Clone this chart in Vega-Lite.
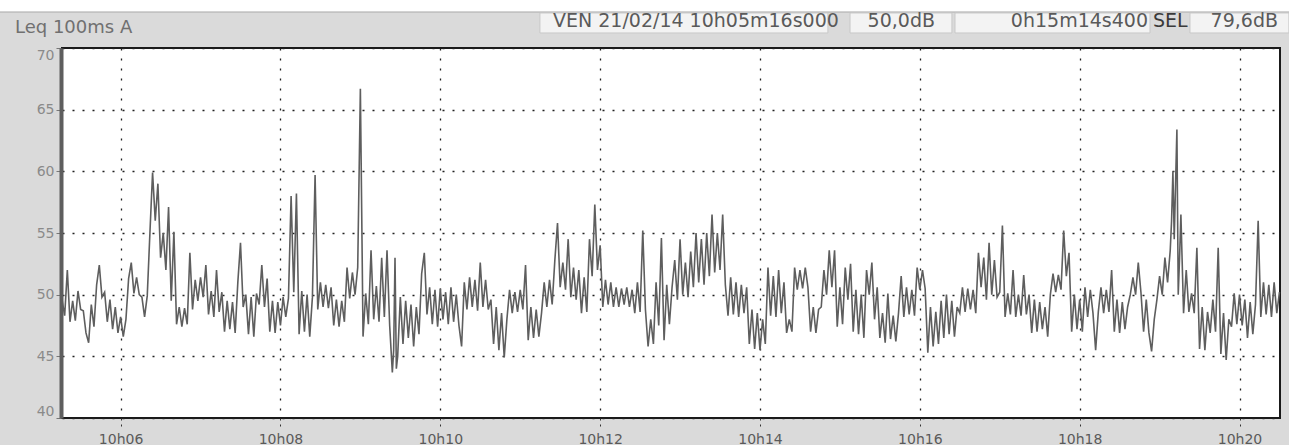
{
  "$schema": "https://vega.github.io/schema/vega-lite/v6.json",
  "width": 1218,
  "height": 370,
  "autosize": {"type": "none"},
  "padding": {"left": 62, "top": 48, "right": 9, "bottom": 27},
  "background": "#dadada",
  "config": {
    "view": {"fill": "#ffffff", "stroke": "#1a1a1a", "strokeWidth": 2},
    "axis": {"labelFont": "DejaVu Sans", "titleFont": "DejaVu Sans"}
  },
  "datasets": {
    "one": [{}],
    "leq": [
      {"t":316,"v":49.6},{"t":318,"v":48.3},{"t":320,"v":52.0},{"t":322,"v":47.8},{"t":324,"v":49.5},{"t":326,"v":47.9},{"t":328,"v":50.3},{"t":330,"v":48.8},{"t":332,"v":48.7},{"t":334,"v":46.9},{"t":336,"v":46.1},{"t":338,"v":49.2},{"t":340,"v":47.4},{"t":342,"v":50.8},{"t":344,"v":52.4},{"t":346,"v":49.8},{"t":348,"v":50.2},{"t":350,"v":47.8},{"t":352,"v":49.6},{"t":354,"v":47.2},{"t":356,"v":49.0},{"t":358,"v":46.9},{"t":360,"v":48.2},{"t":362,"v":46.6},{"t":364,"v":48.0},{"t":366,"v":51.3},{"t":368,"v":52.6},{"t":370,"v":50.1},{"t":372,"v":51.4},{"t":374,"v":50.0},{"t":376,"v":49.8},{"t":378,"v":48.2},{"t":380,"v":49.9},{"t":382,"v":55.0},{"t":384,"v":59.9},{"t":386,"v":56.0},{"t":388,"v":59.0},{"t":390,"v":53.0},{"t":392,"v":55.0},{"t":394,"v":52.0},{"t":396,"v":57.1},{"t":398,"v":49.5},{"t":400,"v":55.1},{"t":402,"v":47.6},{"t":404,"v":49.0},{"t":406,"v":47.4},{"t":408,"v":48.9},{"t":410,"v":47.6},{"t":412,"v":53.4},{"t":414,"v":48.8},{"t":416,"v":51.2},{"t":418,"v":49.5},{"t":420,"v":51.4},{"t":422,"v":49.8},{"t":424,"v":52.4},{"t":426,"v":48.4},{"t":428,"v":50.3},{"t":430,"v":48.2},{"t":432,"v":52.0},{"t":434,"v":48.6},{"t":436,"v":50.2},{"t":438,"v":47.0},{"t":440,"v":49.5},{"t":442,"v":47.2},{"t":444,"v":49.4},{"t":446,"v":46.9},{"t":448,"v":51.0},{"t":450,"v":54.2},{"t":452,"v":49.0},{"t":454,"v":50.0},{"t":456,"v":46.8},{"t":458,"v":49.8},{"t":460,"v":46.6},{"t":462,"v":50.1},{"t":464,"v":49.2},{"t":466,"v":52.4},{"t":468,"v":49.0},{"t":470,"v":51.3},{"t":472,"v":47.0},{"t":474,"v":49.5},{"t":476,"v":46.9},{"t":478,"v":49.4},{"t":480,"v":47.5},{"t":482,"v":49.8},{"t":484,"v":48.2},{"t":486,"v":49.7},{"t":488,"v":58.0},{"t":490,"v":50.2},{"t":492,"v":58.2},{"t":494,"v":46.8},{"t":496,"v":50.3},{"t":498,"v":47.0},{"t":500,"v":50.0},{"t":502,"v":46.6},{"t":504,"v":49.8},{"t":506,"v":59.7},{"t":508,"v":48.8},{"t":510,"v":51.0},{"t":512,"v":49.0},{"t":514,"v":50.8},{"t":516,"v":48.9},{"t":518,"v":50.6},{"t":520,"v":47.5},{"t":522,"v":49.6},{"t":524,"v":47.4},{"t":526,"v":49.5},{"t":528,"v":47.8},{"t":530,"v":52.2},{"t":532,"v":49.7},{"t":534,"v":51.8},{"t":536,"v":50.0},{"t":538,"v":52.2},{"t":540,"v":66.7},{"t":542,"v":46.6},{"t":544,"v":50.1},{"t":546,"v":47.6},{"t":548,"v":53.6},{"t":550,"v":48.0},{"t":552,"v":50.7},{"t":554,"v":47.8},{"t":556,"v":53.0},{"t":558,"v":48.2},{"t":560,"v":53.6},{"t":562,"v":47.5},{"t":564,"v":43.7},{"t":565,"v":45.5},{"t":566,"v":53.0},{"t":567,"v":44.0},{"t":568,"v":45.0},{"t":570,"v":49.8},{"t":572,"v":46.0},{"t":574,"v":49.5},{"t":576,"v":46.5},{"t":578,"v":49.2},{"t":580,"v":45.8},{"t":582,"v":49.0},{"t":584,"v":46.8},{"t":586,"v":51.7},{"t":588,"v":53.4},{"t":590,"v":48.4},{"t":592,"v":50.6},{"t":594,"v":47.6},{"t":596,"v":50.4},{"t":598,"v":47.4},{"t":600,"v":50.5},{"t":602,"v":48.0},{"t":604,"v":50.2},{"t":606,"v":47.6},{"t":608,"v":50.6},{"t":610,"v":47.8},{"t":612,"v":50.0},{"t":614,"v":47.5},{"t":616,"v":45.8},{"t":618,"v":51.0},{"t":620,"v":48.8},{"t":622,"v":51.4},{"t":624,"v":49.0},{"t":626,"v":51.2},{"t":628,"v":48.7},{"t":630,"v":52.6},{"t":632,"v":49.0},{"t":634,"v":51.2},{"t":636,"v":48.8},{"t":638,"v":49.6},{"t":640,"v":46.0},{"t":642,"v":49.0},{"t":644,"v":45.5},{"t":646,"v":48.5},{"t":648,"v":44.9},{"t":650,"v":48.0},{"t":652,"v":50.4},{"t":654,"v":48.5},{"t":656,"v":50.2},{"t":658,"v":48.6},{"t":660,"v":50.4},{"t":662,"v":48.8},{"t":664,"v":52.4},{"t":666,"v":46.3},{"t":668,"v":49.0},{"t":670,"v":46.5},{"t":672,"v":48.8},{"t":674,"v":46.6},{"t":676,"v":48.5},{"t":678,"v":51.0},{"t":680,"v":49.0},{"t":682,"v":51.2},{"t":684,"v":49.2},{"t":686,"v":52.8},{"t":688,"v":55.8},{"t":690,"v":50.6},{"t":692,"v":52.6},{"t":694,"v":50.4},{"t":696,"v":54.5},{"t":698,"v":49.8},{"t":700,"v":52.2},{"t":702,"v":49.6},{"t":704,"v":52.0},{"t":706,"v":48.5},{"t":708,"v":51.4},{"t":710,"v":48.6},{"t":712,"v":54.5},{"t":714,"v":51.5},{"t":716,"v":57.3},{"t":718,"v":52.0},{"t":720,"v":54.0},{"t":722,"v":49.0},{"t":724,"v":51.2},{"t":726,"v":49.2},{"t":728,"v":51.0},{"t":730,"v":49.0},{"t":732,"v":50.6},{"t":734,"v":49.0},{"t":736,"v":50.5},{"t":738,"v":49.2},{"t":740,"v":50.6},{"t":742,"v":49.0},{"t":744,"v":50.4},{"t":746,"v":48.5},{"t":748,"v":51.0},{"t":750,"v":48.6},{"t":752,"v":55.2},{"t":754,"v":48.8},{"t":756,"v":45.8},{"t":758,"v":48.0},{"t":760,"v":46.0},{"t":762,"v":51.0},{"t":764,"v":47.5},{"t":766,"v":54.6},{"t":768,"v":46.3},{"t":770,"v":50.8},{"t":772,"v":47.6},{"t":774,"v":50.6},{"t":776,"v":52.8},{"t":778,"v":49.6},{"t":780,"v":54.5},{"t":782,"v":50.0},{"t":784,"v":52.6},{"t":786,"v":49.8},{"t":788,"v":53.5},{"t":790,"v":50.6},{"t":792,"v":55.0},{"t":794,"v":51.0},{"t":796,"v":54.5},{"t":798,"v":50.8},{"t":800,"v":55.0},{"t":802,"v":51.5},{"t":804,"v":56.5},{"t":806,"v":51.8},{"t":808,"v":55.0},{"t":810,"v":52.0},{"t":812,"v":56.5},{"t":814,"v":50.8},{"t":816,"v":48.3},{"t":818,"v":51.4},{"t":820,"v":48.4},{"t":822,"v":51.0},{"t":824,"v":48.2},{"t":826,"v":50.8},{"t":828,"v":48.5},{"t":830,"v":50.6},{"t":832,"v":46.0},{"t":834,"v":48.8},{"t":836,"v":45.6},{"t":838,"v":48.5},{"t":840,"v":45.5},{"t":842,"v":48.0},{"t":844,"v":46.0},{"t":846,"v":52.2},{"t":848,"v":48.3},{"t":850,"v":51.5},{"t":852,"v":48.2},{"t":854,"v":52.0},{"t":856,"v":48.5},{"t":858,"v":51.0},{"t":860,"v":46.9},{"t":862,"v":48.0},{"t":864,"v":47.0},{"t":866,"v":52.2},{"t":868,"v":50.4},{"t":870,"v":52.0},{"t":872,"v":50.5},{"t":874,"v":52.2},{"t":876,"v":50.6},{"t":878,"v":47.0},{"t":880,"v":49.0},{"t":882,"v":46.9},{"t":884,"v":48.8},{"t":886,"v":49.0},{"t":888,"v":52.0},{"t":890,"v":50.0},{"t":892,"v":53.6},{"t":894,"v":50.6},{"t":896,"v":53.6},{"t":898,"v":47.4},{"t":900,"v":50.6},{"t":902,"v":47.6},{"t":904,"v":52.2},{"t":906,"v":49.6},{"t":908,"v":52.5},{"t":910,"v":47.0},{"t":912,"v":50.4},{"t":914,"v":46.8},{"t":916,"v":50.0},{"t":918,"v":46.5},{"t":920,"v":52.0},{"t":922,"v":50.0},{"t":924,"v":52.6},{"t":926,"v":48.0},{"t":928,"v":50.6},{"t":930,"v":46.5},{"t":932,"v":48.5},{"t":934,"v":46.1},{"t":936,"v":50.1},{"t":938,"v":46.4},{"t":940,"v":48.3},{"t":942,"v":46.2},{"t":944,"v":48.5},{"t":946,"v":51.5},{"t":948,"v":48.2},{"t":950,"v":50.6},{"t":952,"v":48.4},{"t":954,"v":50.4},{"t":956,"v":48.3},{"t":958,"v":52.2},{"t":960,"v":50.4},{"t":962,"v":52.0},{"t":964,"v":50.5},{"t":966,"v":45.3},{"t":968,"v":49.0},{"t":970,"v":45.8},{"t":972,"v":48.6},{"t":974,"v":46.0},{"t":976,"v":49.5},{"t":978,"v":46.5},{"t":980,"v":50.0},{"t":982,"v":46.8},{"t":984,"v":49.5},{"t":986,"v":46.6},{"t":988,"v":49.0},{"t":990,"v":48.5},{"t":992,"v":50.6},{"t":994,"v":48.6},{"t":996,"v":50.5},{"t":998,"v":48.8},{"t":1000,"v":50.4},{"t":1002,"v":48.5},{"t":1004,"v":53.4},{"t":1006,"v":50.6},{"t":1008,"v":53.0},{"t":1010,"v":49.6},{"t":1012,"v":54.2},{"t":1014,"v":50.0},{"t":1016,"v":52.8},{"t":1018,"v":49.8},{"t":1020,"v":50.2},{"t":1022,"v":55.6},{"t":1024,"v":48.2},{"t":1026,"v":50.1},{"t":1028,"v":48.4},{"t":1030,"v":52.0},{"t":1032,"v":48.2},{"t":1034,"v":50.0},{"t":1036,"v":48.3},{"t":1038,"v":51.6},{"t":1040,"v":48.4},{"t":1042,"v":50.0},{"t":1044,"v":46.9},{"t":1046,"v":49.6},{"t":1048,"v":47.0},{"t":1050,"v":49.4},{"t":1052,"v":47.2},{"t":1054,"v":49.0},{"t":1056,"v":46.6},{"t":1058,"v":50.0},{"t":1060,"v":51.7},{"t":1062,"v":50.2},{"t":1064,"v":51.6},{"t":1066,"v":50.4},{"t":1068,"v":55.2},{"t":1070,"v":51.5},{"t":1072,"v":53.4},{"t":1074,"v":47.0},{"t":1076,"v":50.0},{"t":1078,"v":47.2},{"t":1080,"v":49.6},{"t":1082,"v":47.0},{"t":1084,"v":50.6},{"t":1086,"v":48.2},{"t":1088,"v":50.4},{"t":1090,"v":48.5},{"t":1092,"v":45.5},{"t":1094,"v":48.6},{"t":1096,"v":50.6},{"t":1098,"v":48.5},{"t":1100,"v":50.4},{"t":1102,"v":48.6},{"t":1104,"v":52.0},{"t":1106,"v":47.0},{"t":1108,"v":49.6},{"t":1110,"v":46.9},{"t":1112,"v":49.4},{"t":1114,"v":47.2},{"t":1116,"v":49.0},{"t":1118,"v":50.0},{"t":1120,"v":51.4},{"t":1122,"v":50.0},{"t":1124,"v":52.6},{"t":1126,"v":50.2},{"t":1128,"v":47.0},{"t":1130,"v":49.6},{"t":1132,"v":46.9},{"t":1134,"v":45.4},{"t":1136,"v":48.0},{"t":1138,"v":49.6},{"t":1140,"v":51.5},{"t":1142,"v":50.0},{"t":1144,"v":53.0},{"t":1146,"v":51.0},{"t":1148,"v":53.6},{"t":1149,"v":56.0},{"t":1150,"v":60.0},{"t":1151,"v":54.5},{"t":1152,"v":59.0},{"t":1153,"v":63.4},{"t":1154,"v":50.0},{"t":1155,"v":53.0},{"t":1156,"v":56.5},{"t":1158,"v":48.5},{"t":1160,"v":52.0},{"t":1162,"v":48.6},{"t":1164,"v":50.1},{"t":1166,"v":48.5},{"t":1168,"v":53.8},{"t":1170,"v":45.6},{"t":1172,"v":49.0},{"t":1174,"v":45.5},{"t":1176,"v":48.6},{"t":1178,"v":46.9},{"t":1180,"v":49.6},{"t":1182,"v":47.0},{"t":1184,"v":53.8},{"t":1186,"v":45.2},{"t":1188,"v":48.5},{"t":1190,"v":44.7},{"t":1192,"v":48.0},{"t":1194,"v":47.4},{"t":1196,"v":50.1},{"t":1198,"v":47.6},{"t":1200,"v":50.0},{"t":1202,"v":47.5},{"t":1204,"v":49.6},{"t":1206,"v":46.5},{"t":1208,"v":49.4},{"t":1210,"v":46.8},{"t":1212,"v":49.2},{"t":1214,"v":56.0},{"t":1216,"v":48.2},{"t":1218,"v":51.0},{"t":1220,"v":48.4},{"t":1222,"v":50.8},{"t":1224,"v":48.2},{"t":1226,"v":51.0},{"t":1228,"v":48.5},{"t":1230,"v":50.2}
    ]
  },
  "layer": [
    {
      "data": {"name": "leq"},
      "mark": {"type": "line", "color": "#5e5e5e", "strokeWidth": 1.6, "interpolate": "linear", "strokeJoin": "miter"},
      "encoding": {
        "x": {
          "field": "t", "type": "quantitative",
          "scale": {"domain": [316, 1230.4], "nice": false, "zero": false},
          "axis": {
            "title": null, "values": [360, 480, 600, 720, 840, 960, 1080, 1200],
            "labelExpr": "'10h' + (datum.value < 600 ? '0' : '') + (datum.value / 60)",
            "grid": true, "gridColor": "#222222", "gridDash": [2, 8], "gridWidth": 1.3,
            "domain": false, "ticks": true, "tickSize": 8, "tickDash": [2, 4], "tickColor": "#333333",
            "labelFontSize": 14, "labelColor": "#5a5a5a", "labelBaseline": "alphabetic", "labelPadding": 17
          }
        },
        "y": {
          "field": "v", "type": "quantitative",
          "scale": {"domain": [40, 70], "nice": false, "zero": false},
          "axis": {
            "title": null, "values": [40, 45, 50, 55, 60, 65, 70],
            "grid": true, "gridColor": "#222222", "gridDash": [2, 8], "gridWidth": 1.3,
            "domain": true, "domainColor": "#5e5e5e", "domainWidth": 4, "offset": 1,
            "tickSize": 5, "tickColor": "#777777", "labelFlush": true,
            "labelFontSize": 14, "labelColor": "#8a8a8a", "labelPadding": 2
          }
        }
      }
    },
    {
      "data": {"name": "one"},
      "mark": {"type": "rect", "fill": "#ffffff"},
      "encoding": {
        "x": {"datum": 269, "type": "quantitative"}, "x2": {"datum": 1238},
        "y": {"datum": 74.5, "type": "quantitative"}, "y2": {"datum": 72.92}
      }
    },
    {
      "data": {"name": "one"},
      "mark": {"type": "rule", "color": "#a8a8a8", "strokeWidth": 1},
      "encoding": {
        "x": {"datum": 269, "type": "quantitative"}, "x2": {"datum": 1238},
        "y": {"datum": 72.92, "type": "quantitative"}
      }
    },
    {
      "data": {"name": "one"},
      "mark": {"type": "rect", "fill": "#f3f3f3", "stroke": "#c8c8c8", "strokeWidth": 1},
      "encoding": {
        "x": {"datum": 674.8, "type": "quantitative"}, "x2": {"datum": 891.0},
        "y": {"datum": 72.84, "type": "quantitative"}, "y2": {"datum": 71.22}
      }
    },
    {
      "data": {"name": "one"},
      "mark": {"type": "rect", "fill": "#f3f3f3", "stroke": "#c8c8c8", "strokeWidth": 1},
      "encoding": {
        "x": {"datum": 907.6, "type": "quantitative"}, "x2": {"datum": 984.1},
        "y": {"datum": 72.84, "type": "quantitative"}, "y2": {"datum": 71.22}
      }
    },
    {
      "data": {"name": "one"},
      "mark": {"type": "rect", "fill": "#f3f3f3", "stroke": "#c8c8c8", "strokeWidth": 1},
      "encoding": {
        "x": {"datum": 986.4, "type": "quantitative"}, "x2": {"datum": 1132.8},
        "y": {"datum": 72.84, "type": "quantitative"}, "y2": {"datum": 71.22}
      }
    },
    {
      "data": {"name": "one"},
      "mark": {"type": "rect", "fill": "#f3f3f3", "stroke": "#c8c8c8", "strokeWidth": 1},
      "encoding": {
        "x": {"datum": 1162.8, "type": "quantitative"}, "x2": {"datum": 1237.1},
        "y": {"datum": 72.84, "type": "quantitative"}, "y2": {"datum": 71.22}
      }
    },
    {
      "data": {"name": "one"},
      "mark": {"type": "text", "font": "DejaVu Sans", "fontSize": 18, "color": "#707070", "align": "left", "baseline": "alphabetic"},
      "encoding": {
        "x": {"datum": 280.7, "type": "quantitative"},
        "y": {"datum": 71.22, "type": "quantitative"},
        "text": {"value": "Leq 100ms  A"}
      }
    },
    {
      "data": {"name": "one"},
      "mark": {"type": "text", "font": "DejaVu Sans", "fontSize": 19, "color": "#5a5a5a", "align": "left", "baseline": "alphabetic"},
      "encoding": {
        "x": {"datum": 684.6, "type": "quantitative"},
        "y": {"datum": 71.7, "type": "quantitative"},
        "text": {"value": "VEN 21/02/14 10h05m16s000"}
      }
    },
    {
      "data": {"name": "one"},
      "mark": {"type": "text", "font": "DejaVu Sans", "fontSize": 19, "color": "#5a5a5a", "align": "right", "baseline": "alphabetic"},
      "encoding": {
        "x": {"datum": 971.4, "type": "quantitative"},
        "y": {"datum": 71.7, "type": "quantitative"},
        "text": {"value": "50,0dB"}
      }
    },
    {
      "data": {"name": "one"},
      "mark": {"type": "text", "font": "DejaVu Sans", "fontSize": 19, "color": "#5a5a5a", "align": "right", "baseline": "alphabetic"},
      "encoding": {
        "x": {"datum": 1131.3, "type": "quantitative"},
        "y": {"datum": 71.7, "type": "quantitative"},
        "text": {"value": "0h15m14s400"}
      }
    },
    {
      "data": {"name": "one"},
      "mark": {"type": "text", "font": "DejaVu Sans", "fontSize": 19, "color": "#3a3a3a", "align": "left", "baseline": "alphabetic"},
      "encoding": {
        "x": {"datum": 1135.0, "type": "quantitative"},
        "y": {"datum": 71.7, "type": "quantitative"},
        "text": {"value": "SEL"}
      }
    },
    {
      "data": {"name": "one"},
      "mark": {"type": "text", "font": "DejaVu Sans", "fontSize": 19, "color": "#5a5a5a", "align": "right", "baseline": "alphabetic"},
      "encoding": {
        "x": {"datum": 1228.9, "type": "quantitative"},
        "y": {"datum": 71.7, "type": "quantitative"},
        "text": {"value": "79,6dB"}
      }
    }
  ]
}
